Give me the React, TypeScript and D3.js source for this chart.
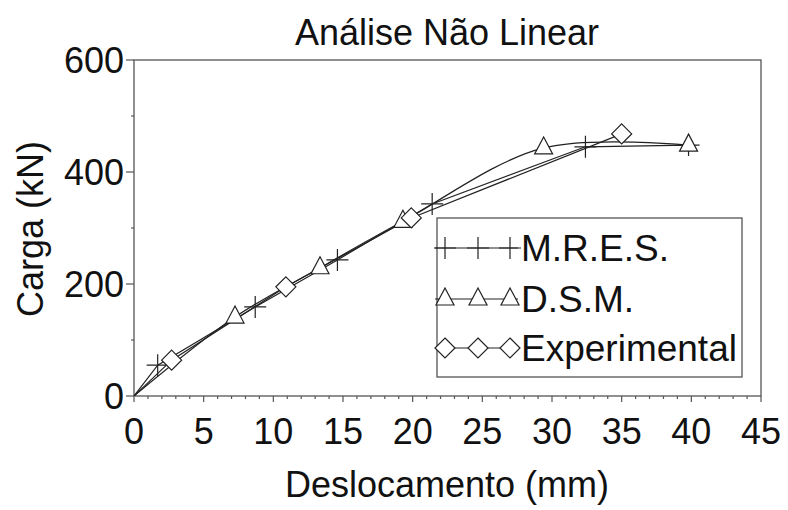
import React from "react";
import * as d3 from "d3";

const title = "Análise Não Linear";
const xLabel = "Deslocamento (mm)";
const yLabel = "Carga (kN)";
const xTicks = [0, 5, 10, 15, 20, 25, 30, 35, 40, 45];
const yTicks = [0, 200, 400, 600];

const mresX = [0, 1.7, 8.7, 14.6, 21.4, 32.4, 39.8];
const mresY = [0, 55, 159, 243, 343, 445, 448];
const dsmX = [0, 7.25, 13.35, 19.3, 29.4, 39.8];
const dsmY = [0, 141, 229, 312, 443, 448];
const expX = [0, 2.7, 10.9, 19.9, 35.0];
const expY = [0, 64, 195, 318, 468];

const seriesNames = ["M.R.E.S.", "D.S.M.", "Experimental"];

const W = 788;
const H = 510;
const L = 134, R = 761, T = 60, B = 396;
const FONT = "'Liberation Sans', Arial, sans-serif";
const INK = "#222";
const AX = "#555";

function Marker({ kind, x, y }: { kind: string; x: number; y: number }) {
  if (kind === "plus") {
    return (
      <path d={`M${x - 11},${y}H${x + 11}M${x},${y - 11}V${y + 11}`} stroke={INK} strokeWidth={1.2} fill="none" />
    );
  }
  if (kind === "tri") {
    return (
      <path d={`M${x},${y - 11}L${x + 9},${y + 6}L${x - 9},${y + 6}Z`} stroke={INK} strokeWidth={1.2} fill="white" />
    );
  }
  return (
    <path d={`M${x},${y - 10}L${x + 10},${y}L${x},${y + 10}L${x - 10},${y}Z`} stroke={INK} strokeWidth={1.2} fill="white" />
  );
}

export default function App() {
  const x = d3.scaleLinear().domain([0, 45]).range([L, R]);
  const y = d3.scaleLinear().domain([0, 600]).range([B, T]);
  const mk = (curve: d3.CurveFactory) =>
    d3
      .line<[number, number]>()
      .x((d) => x(d[0]))
      .y((d) => y(d[1]))
      .curve(curve);

  const series = [
    { kind: "plus", curve: d3.curveLinear, pts: mresX.map((v, i) => [v, mresY[i]] as [number, number]) },
    { kind: "tri", curve: d3.curveCatmullRom.alpha(0.5), pts: dsmX.map((v, i) => [v, dsmY[i]] as [number, number]) },
    { kind: "dia", curve: d3.curveLinear, pts: expX.map((v, i) => [v, expY[i]] as [number, number]) },
  ];

  const xMinor = d3.range(0, 46, 1);
  const yMinor = d3.range(0, 601, 100);

  const legX = 437, legY = 218, legW = 305, legH = 159;
  const rows = [248, 299, 348];

  return (
    <svg width={W} height={H} style={{ position: "absolute", left: 0, top: 0, background: "white" }} fontFamily={FONT}>
      <defs>
        <clipPath id="plotclip">
          <rect x={L} y={T} width={R - L} height={B - T} />
        </clipPath>
      </defs>
      <rect x={0} y={0} width={W} height={H} fill="white" />
      <text x={447} y={45} textAnchor="middle" fontSize={36} fill="#111">{title}</text>

      <rect x={L} y={T} width={R - L} height={B - T} fill="none" stroke={AX} strokeWidth={1.3} />

      {xMinor.map((v) => (
        <line key={"xm" + v} x1={x(v)} x2={x(v)} y1={B} y2={B + (v % 5 === 0 ? 6 : 3)} stroke={AX} strokeWidth={1.2} />
      ))}
      {xTicks.map((v) => (
        <text key={"xt" + v} x={x(v)} y={444} textAnchor="middle" fontSize={36} fill="#111">{v}</text>
      ))}
      {yMinor.map((v) => (
        <line key={"ym" + v} x1={L} x2={L - (v % 200 === 0 ? 8 : 3)} y1={y(v)} y2={y(v)} stroke={AX} strokeWidth={1.2} />
      ))}
      {yTicks.map((v) => (
        <text key={"yt" + v} x={124} y={y(v) + 13} textAnchor="end" fontSize={36} fill="#111">{v}</text>
      ))}

      <text x={447} y={497} textAnchor="middle" fontSize={36} fill="#111">{xLabel}</text>
      <text transform={`translate(43,229) rotate(-90)`} textAnchor="middle" fontSize={36} fill="#111">{yLabel}</text>

      <g clipPath="url(#plotclip)">
        {series.map((s, i) => (
          <path key={"l" + i} d={mk(s.curve)(s.pts) || ""} fill="none" stroke={INK} strokeWidth={1.2} />
        ))}
        {series.map((s, i) =>
          s.pts.map((p, j) =>
            j === 0 ? null : <Marker key={"m" + i + "-" + j} kind={s.kind} x={x(p[0])} y={y(p[1])} />
          )
        )}
      </g>

      <rect x={legX} y={legY} width={legW} height={legH} fill="white" stroke={AX} strokeWidth={1.3} />
      {series.map((s, i) => (
        <g key={"lg" + i}>
          <line x1={435} x2={518} y1={rows[i]} y2={rows[i]} stroke={INK} strokeWidth={1.2} />
          {[445, 478, 510].map((mx) => (
            <Marker key={mx} kind={s.kind} x={mx} y={rows[i]} />
          ))}
          <text x={521} y={rows[i] + 13} fontSize={37} fill="#111">{seriesNames[i]}</text>
        </g>
      ))}
    </svg>
  );
}
